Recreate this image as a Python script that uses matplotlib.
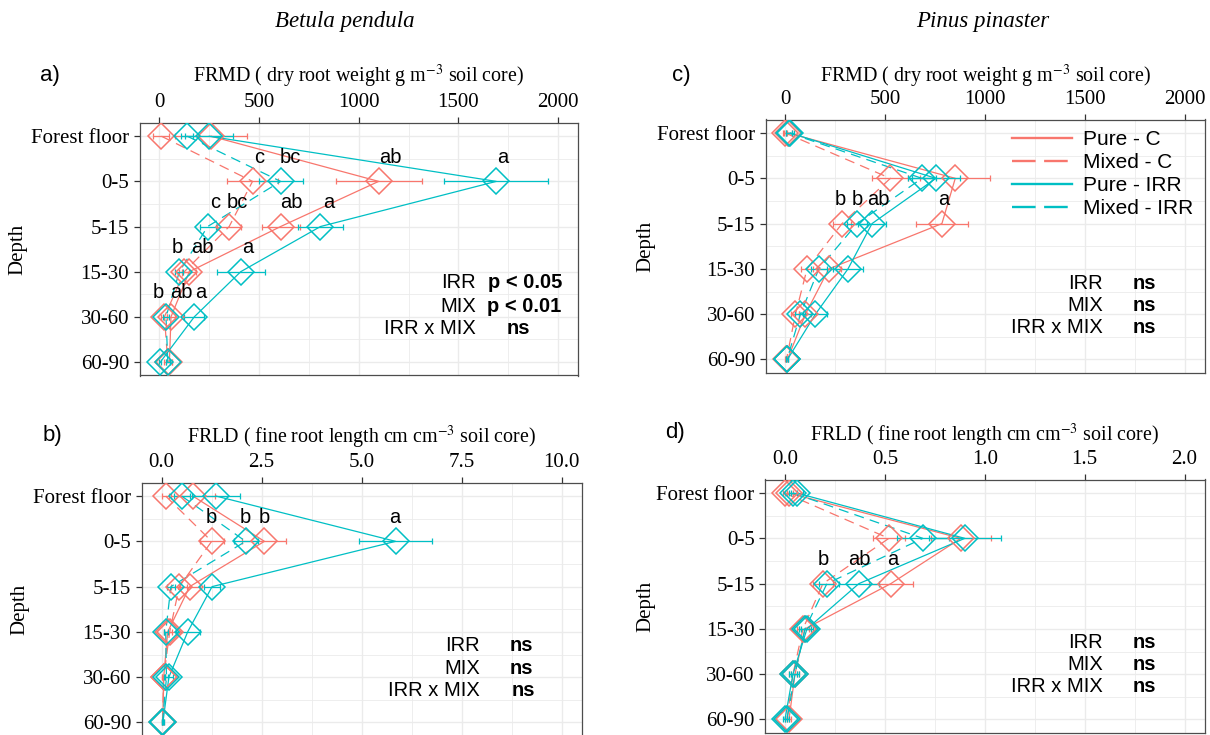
import matplotlib
matplotlib.use("Agg")
import matplotlib.pyplot as plt
from matplotlib.lines import Line2D
from matplotlib.ticker import MultipleLocator

plt.rcParams["mathtext.fontset"] = "stix"

depths = ["Forest floor", "0-5", "5-15", "15-30", "30-60", "60-90"]
groups = ["Pure - C", "Mixed - C", "Pure - IRR", "Mixed - IRR"]

# a) Betula pendula, FRMD (g m-3)
a_pure_c = [260, 1100, 608, 150, 58, 50]
a_mixed_c = [10, 467, 350, 125, 25, 42]
a_pure_irr = [250, 1690, 808, 408, 175, 5]
a_mixed_irr = [140, 608, 242, 100, 33, 42]
a_pure_c_se = [180, 215, 95, 35, 20, 15]
a_mixed_c_se = [40, 130, 60, 25, 15, 20]
a_pure_irr_se = [120, 260, 115, 120, 50, 5]
a_mixed_irr_se = [30, 110, 40, 20, 15, 10]
a_letter_row = [0.5, 0.5, 0.5, 0.5, 1.5, 1.5, 1.5, 1.5, 2.5, 2.5, 2.5, 3.5, 3.5, 3.5]
a_letter_x = [500, 658, 1160, 1720, 278, 392, 662, 850, 92, 217, 442, -8, 108, 208]
a_letters = ["c", "bc", "ab", "a", "c", "bc", "ab", "a", "b", "ab", "a", "b", "ab", "a"]
a_stats = ["p < 0.05", "p < 0.01", "ns"]

# b) Betula pendula, FRLD (cm cm-3)
b_pure_c = [0.78, 2.57, 0.70, 0.15, 0.05, 0.03]
b_mixed_c = [0.10, 1.25, 0.44, 0.20, 0.05, 0.02]
b_pure_irr = [1.36, 5.85, 1.26, 0.65, 0.18, 0.03]
b_mixed_irr = [0.50, 2.10, 0.23, 0.10, 0.12, 0.02]
b_pure_c_se = [0.55, 0.55, 0.25, 0.10, 0.04, 0.02]
b_mixed_c_se = [0.08, 0.30, 0.20, 0.15, 0.03, 0.02]
b_pure_irr_se = [0.60, 0.92, 0.20, 0.30, 0.10, 0.02]
b_mixed_irr_se = [0.20, 0.30, 0.10, 0.05, 0.05, 0.02]
b_letter_row = [0.5, 0.5, 0.5, 0.5]
b_letter_x = [1.25, 2.08, 2.57, 5.83]
b_letters = ["b", "b", "b", "a"]
b_stats = ["ns", "ns", "ns"]

# c) Pinus pinaster, FRMD (g m-3)
c_pure_c = [15, 850, 783, 217, 100, 10]
c_mixed_c = [0, 525, 283, 108, 50, 5]
c_pure_irr = [25, 753, 433, 313, 150, 10]
c_mixed_irr = [20, 683, 358, 167, 75, 8]
c_pure_c_se = [20, 175, 130, 60, 30, 5]
c_mixed_c_se = [10, 90, 45, 30, 20, 5]
c_pure_irr_se = [20, 120, 70, 75, 60, 5]
c_mixed_irr_se = [15, 70, 50, 40, 25, 5]
c_letter_row = [1.5, 1.5, 1.5, 1.5]
c_letter_x = [275, 358, 467, 792]
c_letters = ["b", "b", "ab", "a"]
c_stats = ["ns", "ns", "ns"]

# d) Pinus pinaster, FRLD (cm cm-3)
d_pure_c = [0.02, 0.88, 0.53, 0.10, 0.05, 0.02]
d_mixed_c = [0.00, 0.52, 0.19, 0.09, 0.04, 0.01]
d_pure_irr = [0.06, 0.90, 0.37, 0.11, 0.04, 0.00]
d_mixed_irr = [0.04, 0.69, 0.21, 0.10, 0.05, 0.01]
d_pure_c_se = [0.02, 0.15, 0.11, 0.03, 0.02, 0.01]
d_mixed_c_se = [0.01, 0.08, 0.05, 0.03, 0.02, 0.01]
d_pure_irr_se = [0.03, 0.18, 0.10, 0.03, 0.02, 0.01]
d_mixed_irr_se = [0.02, 0.13, 0.04, 0.03, 0.02, 0.01]
d_letter_row = [1.5, 1.5, 1.5]
d_letter_x = [0.19, 0.37, 0.54]
d_letters = ["b", "ab", "a"]
d_stats = ["ns", "ns", "ns"]

stat_names = ["IRR", "MIX", "IRR x MIX"]

RED, CYAN = "#F8766D", "#00BFC4"
COLORS = [RED, RED, CYAN, CYAN]
DASHED = [False, True, False, True]

SERIF = "Liberation Serif"
SANS = "Liberation Sans"
W, H = 1210, 735
fig = plt.figure(figsize=(W / 100, H / 100), dpi=100)


def add_box(L, T, R, B):
    return fig.add_axes([L / W, 1 - B / H, (R - L) / W, (B - T) / H])


def frac(box, px, py):
    L, T, R, B = box
    return (px - L) / (R - L), (B - py) / (B - T)


def draw_panel(box, means, ses, xmax, step, fmt, letters, stats, stat_px, ylabel_px):
    ax = add_box(*box)
    rows = list(range(len(depths)))
    for m, s, col, dash in zip(means, ses, COLORS, DASHED):
        ls = (0, (8, 5)) if dash else "-"
        ax.plot(m, rows, color=col, lw=0.9, ls=ls, zorder=3)
        ax.errorbar(m, rows, xerr=s, fmt="none", ecolor=col, elinewidth=0.9,
                    capsize=2, capthick=0.9, zorder=3)
        ax.plot(m, rows, ls="none", marker="D", ms=13.5, mfc="none", mec=col,
                mew=1.1, zorder=4)
    for r, x, t in zip(*letters):
        ax.text(x, r - 0.03, t, ha="center", va="center", fontsize=14.5, family=SANS, zorder=5)
    right_px, val_px, ys = stat_px
    for name, val, vx, y in zip(stat_names, stats, val_px, ys):
        ax.text(*frac(box, right_px, y), name, transform=ax.transAxes, ha="right",
                va="center", fontsize=14.5, family=SANS)
        ax.text(*frac(box, vx, y), val, transform=ax.transAxes, ha="left",
                va="center", fontsize=14.5, family=SANS, fontweight="bold")

    ax.set_xlim(-0.05 * xmax, 1.05 * xmax)
    ax.set_ylim(5.3, -0.3)
    ax.xaxis.tick_top()
    ax.xaxis.set_major_locator(MultipleLocator(step))
    ax.xaxis.set_minor_locator(MultipleLocator(step / 2))
    ax.set_xticklabels([fmt.format(v) for v in ax.get_xticks()])
    ax.set_yticks(rows)
    ax.set_yticks([r + 0.5 for r in rows[:-1]], minor=True)
    ax.set_yticklabels(depths)
    for lab in ax.get_xticklabels() + ax.get_yticklabels():
        lab.set_family(SERIF)
        lab.set_fontsize(15)
    ax.tick_params(which="major", length=4, width=0.9, color="#333333", pad=3.5)
    ax.tick_params(which="minor", length=0)
    ax.grid(True, which="major", color="#EBEBEB", lw=1.0, zorder=0)
    ax.grid(True, which="minor", color="#EBEBEB", lw=0.6, zorder=0)
    ax.set_axisbelow(True)
    for sp in ax.spines.values():
        sp.set_color("#4D4D4D")
        sp.set_linewidth(0.9)
    ax.set_ylabel("Depth", family=SERIF, fontsize=15)
    ax.yaxis.set_label_coords(*frac(box, ylabel_px, (box[1] + box[3]) / 2))
    return ax


box_a = (139.5, 122.7, 578, 375.5)
box_b = (141.7, 482.5, 581.5, 736)
box_c = (765.5, 119.5, 1205, 373)
box_d = (765, 479.5, 1204.5, 733)

draw_panel(box_a,
           [a_pure_c, a_mixed_c, a_pure_irr, a_mixed_irr],
           [a_pure_c_se, a_mixed_c_se, a_pure_irr_se, a_mixed_irr_se],
           2000, 500, "{:.0f}", (a_letter_row, a_letter_x, a_letters), a_stats,
           (476, [488, 487, 507], [283, 307, 329]), 27)
draw_panel(box_b,
           [b_pure_c, b_mixed_c, b_pure_irr, b_mixed_irr],
           [b_pure_c_se, b_mixed_c_se, b_pure_irr_se, b_mixed_irr_se],
           10, 2.5, "{:.1f}", (b_letter_row, b_letter_x, b_letters), b_stats,
           (480, [510, 510, 512], [645, 668, 690]), 29)
ax_c = draw_panel(box_c,
                  [c_pure_c, c_mixed_c, c_pure_irr, c_mixed_irr],
                  [c_pure_c_se, c_mixed_c_se, c_pure_irr_se, c_mixed_irr_se],
                  2000, 500, "{:.0f}", (c_letter_row, c_letter_x, c_letters), c_stats,
                  (1103, [1133, 1133, 1133], [283, 305, 327]), 655)
draw_panel(box_d,
           [d_pure_c, d_mixed_c, d_pure_irr, d_mixed_irr],
           [d_pure_c_se, d_mixed_c_se, d_pure_irr_se, d_mixed_irr_se],
           2, 0.5, "{:.1f}", (d_letter_row, d_letter_x, d_letters), d_stats,
           (1103, [1133, 1133, 1133], [643, 665, 687]), 655)

handles = [Line2D([], [], color=c, lw=1.7, ls=(0, (10, 3.6)) if d else "-")
           for c, d in zip(COLORS, DASHED)]
ax_c.legend(handles, groups, loc="upper left", bbox_to_anchor=frac(box_c, 1012, 130),
            frameon=False, borderpad=0, borderaxespad=0, handlelength=2.9,
            handletextpad=0.5, labelspacing=0.2, prop={"family": SANS, "size": 15})


def fig_text(px, py, s, **kw):
    fig.text(px / W, 1 - py / H, s, **kw)


fig_text(345, 22, "Betula pendula", ha="center", va="center", family=SERIF,
         style="italic", fontsize=16.5)
fig_text(983, 22, "Pinus pinaster", ha="center", va="center", family=SERIF,
         style="italic", fontsize=16.5)
for px, py, s in [(40, 75, "a)"), (43, 435, "b)"), (672, 75, "c)"), (665, 432, "d)")]:
    fig_text(px, py, s, ha="left", va="center", family=SANS, fontsize=16)

frmd = r"FRMD ( dry root weight g m$^{-3}$ soil core)"
frld = r"FRLD ( fine root length cm cm$^{-3}$ soil core)"
fig_text((box_a[0] + box_a[2]) / 2, 76, frmd, ha="center", va="center", family=SERIF, fontsize=14.4)
fig_text((box_b[0] + box_b[2]) / 2, 437, frld, ha="center", va="center", family=SERIF, fontsize=14.4)
fig_text((box_c[0] + box_c[2]) / 2, 76, frmd, ha="center", va="center", family=SERIF, fontsize=14.4)
fig_text((box_d[0] + box_d[2]) / 2, 435, frld, ha="center", va="center", family=SERIF, fontsize=14.4)

fig.savefig("out.png", dpi=100)
